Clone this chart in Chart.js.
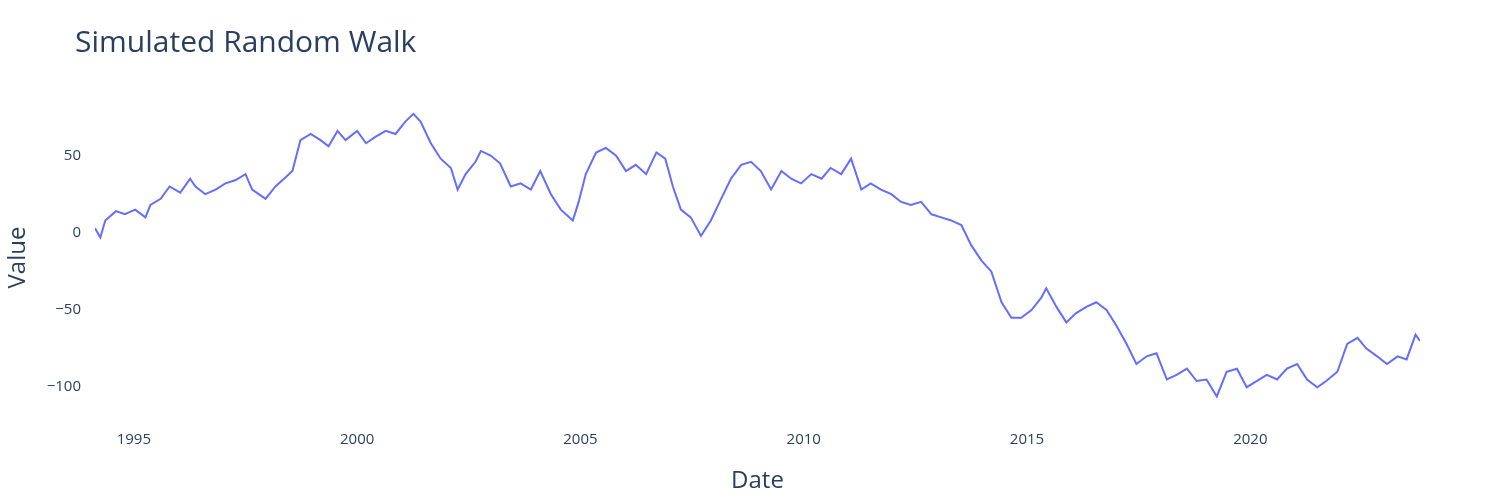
<!DOCTYPE html>
<html>
<head>
<meta charset="utf-8">
<script src="https://cdn.jsdelivr.net/npm/chart.js@4"></script>
<style>
  body { margin: 0; background: #fff; }
  #wrap { position: relative; width: 1500px; height: 500px; }
  #title { position: absolute; left: 75px; top: 20px; font: 30px "Open Sans", "DejaVu Sans", sans-serif; color: #2a3f5f; }
</style>
</head>
<body>
<div id="wrap">
  <div id="title">Simulated Random Walk</div>
  <canvas id="c" width="1500" height="500"></canvas>
</div>
<script>
// values (decimal year, value)
const years = [1994.13,1994.25,1994.36,1994.6,1994.8,1995.03,1995.26,1995.37,1995.6,1995.8,1996.04,1996.26,1996.38,1996.6,1996.83,1997.05,1997.27,1997.5,1997.65,1997.95,1998.17,1998.4,1998.55,1998.73,1998.96,1999.18,1999.36,1999.56,1999.74,2000.0,2000.2,2000.4,2000.64,2000.86,2001.08,2001.26,2001.42,2001.65,2001.87,2002.1,2002.25,2002.43,2002.65,2002.77,2002.99,2003.2,2003.44,2003.66,2003.89,2004.1,2004.34,2004.56,2004.83,2004.96,2005.12,2005.35,2005.57,2005.8,2006.02,2006.24,2006.47,2006.7,2006.9,2007.07,2007.25,2007.47,2007.7,2007.92,2008.15,2008.37,2008.6,2008.82,2009.04,2009.27,2009.5,2009.72,2009.94,2010.17,2010.4,2010.6,2010.84,2011.06,2011.29,2011.5,2011.73,2011.96,2012.18,2012.4,2012.63,2012.86,2013.08,2013.3,2013.53,2013.75,2013.98,2014.2,2014.43,2014.65,2014.87,2015.1,2015.32,2015.43,2015.66,2015.88,2016.1,2016.33,2016.55,2016.78,2017.0,2017.23,2017.45,2017.68,2017.9,2018.13,2018.35,2018.58,2018.8,2019.02,2019.25,2019.47,2019.7,2019.92,2020.14,2020.37,2020.6,2020.82,2021.05,2021.27,2021.5,2021.7,2021.95,2022.17,2022.4,2022.6,2022.84,2023.06,2023.3,2023.5,2023.7,2023.8];
const values = [3,-3,8,14,12,15,10,18,22,30,26,35,30,25,28,32,34,38,28,22,30,36,40,60,64,60,56,66,60,66,58,62,66,64,72,77,72,58,48,42,28,38,46,53,50,45,30,32,28,40,25,15,8,20,38,52,55,50,40,44,38,52,48,30,15,10,-2,8,22,35,44,46,40,28,40,35,32,38,35,42,38,48,28,32,28,25,20,18,20,12,10,8,5,-8,-18,-25,-45,-55,-55,-50,-42,-36,-48,-58,-52,-48,-45,-50,-60,-72,-85,-80,-78,-95,-92,-88,-96,-95,-106,-90,-88,-100,-96,-92,-95,-88,-85,-95,-100,-96,-90,-72,-68,-75,-80,-85,-80,-82,-66,-70];
const xTicks = [1995, 2000, 2005, 2010, 2015, 2020];
const yTicks = [-100, -50, 0, 50];

const tickFont = { family: "'Open Sans', 'DejaVu Sans', sans-serif", size: 15 };
const titleFont = { family: "'Open Sans', 'DejaVu Sans', sans-serif", size: 24 };

new Chart(document.getElementById('c'), {
    type: 'line',
    data: {
        datasets: [{
            data: years.map((y, i) => ({ x: y, y: values[i] })),
            borderColor: '#636efa',
            borderWidth: 2,
            pointRadius: 0,
            tension: 0
        }]
    },
    options: {
        responsive: false,
        animation: false,
        layout: { padding: { top: 100, right: 80, left: 0, bottom: 0 } },
        plugins: { legend: { display: false }, tooltip: { enabled: false } },
        scales: {
            x: {
                type: 'linear',
                min: 1994.13, max: 2023.8,
                grid: { display: false },
                border: { display: false },
                afterBuildTicks: s => { s.ticks = xTicks.map(v => ({ value: v })); },
                afterFit: s => { s.height = 85; },
                ticks: { color: '#2a3f5f', font: tickFont, maxRotation: 0, padding: 8,
                         callback: v => String(v) },
                title: { display: true, text: 'Date', color: '#2a3f5f', font: titleFont }
            },
            y: {
                min: -118, max: 86,
                grid: { display: false },
                border: { display: false },
                afterBuildTicks: s => { s.ticks = yTicks.map(v => ({ value: v })); },
                afterFit: s => { s.width = 95; },
                ticks: { color: '#2a3f5f', font: tickFont, padding: 6,
                         callback: v => v < 0 ? '\u2212' + Math.abs(v) : String(v) },
                title: { display: true, text: 'Value', color: '#2a3f5f', font: titleFont }
            }
        }
    }
});
</script>
</body>
</html>
